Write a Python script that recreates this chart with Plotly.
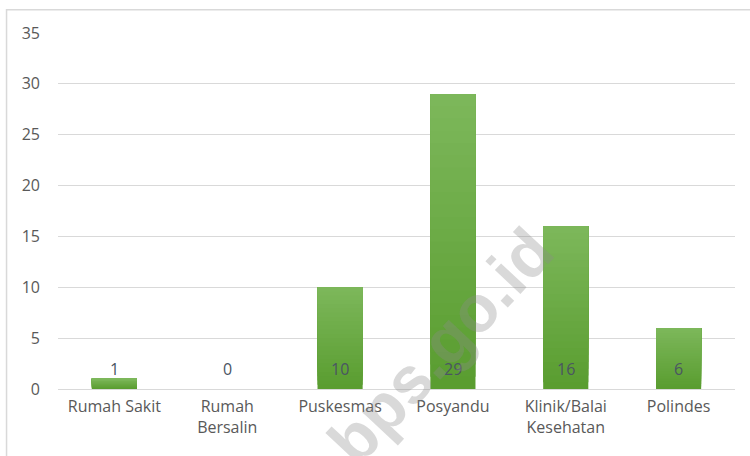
import plotly.graph_objects as go

categories = ["Rumah Sakit", "Rumah<br>Bersalin", "Puskesmas", "Posyandu", "Klinik/Balai<br>Kesehatan", "Polindes"]
values = [1, 0, 10, 29, 16, 6]
y_ticks = [0, 5, 10, 15, 20, 25, 30, 35]

font_family = "Open Sans, Noto Sans, sans-serif"
text_color = "#595959"

# vertical gradient approximated with overlapping layers (each from a level up to the top)
N = 24
c_bottom = (90, 157, 48)
c_top = (124, 183, 90)

fig = go.Figure()
for k in range(N):
    t = k / (N - 1)
    col = "rgb(%d,%d,%d)" % tuple(round(c_bottom[i] + (c_top[i] - c_bottom[i]) * t) for i in range(3))
    fig.add_trace(go.Bar(
        x=categories,
        y=[v * (N - k) / N for v in values],
        base=[v * k / N for v in values],
        marker=dict(color=col, line=dict(width=0)),
        hoverinfo="skip",
    ))

for c, v in zip(categories, values):
    fig.add_annotation(x=c, y=0, text=str(v), showarrow=False,
                       yanchor="middle", yshift=20,
                       font=dict(family=font_family, size=16, color="#4a5563"))

fig.add_annotation(x=0.565, y=0.12, xref="paper", yref="paper", text="<b>bps.go.id</b>",
                   showarrow=False, textangle=-47, xanchor="center", yanchor="middle",
                   font=dict(family="Liberation Sans, Arial, sans-serif", size=66,
                             color="rgba(140,140,140,0.33)"))

fig.add_shape(type="rect", xref="paper", yref="paper", x0=-0.076, y0=-0.3, x1=1.03, y1=1.065,
              line=dict(color="#d9d9d9", width=1.5), fillcolor="rgba(0,0,0,0)", layer="below")

fig.update_layout(
    width=750, height=456,
    margin=dict(l=57.5, r=14.5, t=33, b=67),
    paper_bgcolor="white", plot_bgcolor="white",
    barmode="overlay", bargap=0.6, showlegend=False,
    font=dict(family=font_family, size=16, color=text_color),
)
fig.update_xaxes(showgrid=False, showline=False, ticks="", ticklabelstandoff=6,
                 tickfont=dict(size=16, color=text_color))
fig.update_yaxes(range=[0, 35], tickvals=y_ticks, showgrid=True, gridcolor="#d9d9d9", gridwidth=1,
                 zeroline=True, zerolinecolor="#d9d9d9", zerolinewidth=1, showline=False,
                 ticks="", ticklabelstandoff=17, tickfont=dict(size=16, color=text_color))

fig.write_html("out.html", config={"displayModeBar": False},
               post_script="document.body.style.margin='0';")
